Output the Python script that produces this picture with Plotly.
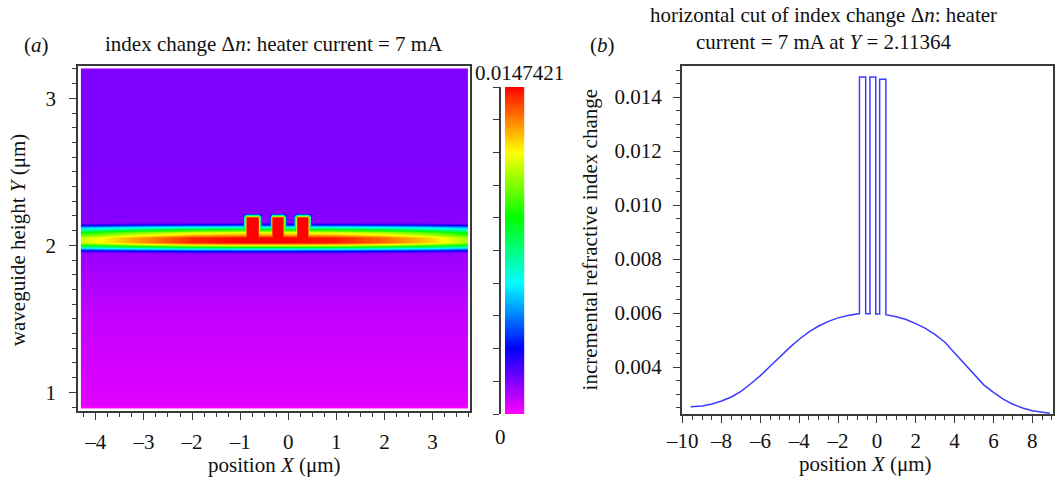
import numpy as np
import plotly.graph_objects as go

W, H = 1058, 484
DN_MAX = 0.0147421
FONT = "Liberation Serif"

# ---- smooth thermal background along the horizontal cut at Y = 2.11364 ----
base_x = [-9.6, -9.0, -8.5, -8.0, -7.5, -7.0, -6.5, -6.0, -5.5, -5.0, -4.5, -4.0,
          -3.5, -3.0, -2.5, -2.0, -1.5, -0.9,
          0.46, 1.0, 1.5, 2.0, 2.5, 3.0, 3.5, 4.0, 4.5, 5.0, 5.5, 6.0, 6.5, 7.0,
          7.5, 8.0, 8.5, 8.9]
base_dn = [0.00253, 0.00256, 0.00263, 0.00274, 0.00289, 0.00310, 0.00338, 0.00368,
           0.00403, 0.00438, 0.00472, 0.00503, 0.00530, 0.00552, 0.00569, 0.00582,
           0.00591, 0.00598,
           0.00594, 0.00586, 0.00576, 0.00561, 0.00543, 0.00520, 0.00492, 0.00452,
           0.00413, 0.00370, 0.00334, 0.00306, 0.00281, 0.00262, 0.00248, 0.00238,
           0.00232, 0.00229]

# ---- heater ridges (µm) and their peak index change ----
ridge_x0 = [-0.90, -0.36, 0.14]
ridge_x1 = [-0.58, -0.06, 0.46]
ridge_peak = [0.01474, 0.01474, 0.01466]
valley_dn = [0.00597, 0.00596]
ridge_top_y = 2.20
ridge_base_y = 2.03

# ---- normalized index change through the waveguide core (vs height Y) ----
core_y = [1.900, 1.932, 1.946, 1.959, 1.973, 1.986, 2.000, 2.014, 2.048, 2.061,
          2.082, 2.102, 2.122, 2.136, 2.150, 2.180]
core_f = [0.00, 0.08, 0.12, 0.25, 0.45, 0.65, 0.85, 1.00, 1.00, 0.90,
          0.80, 0.60, 0.40, 0.20, 0.10, 0.00]

# ---- relative strength of the core band along X ----
core_peak_x = [-4.3, -3.5, -3.0, -2.0, -1.0, 0.0, 1.0, 2.0, 3.0, 3.72]
core_peak_f = [0.76, 0.84, 0.89, 0.97, 1.0, 1.0, 0.98, 0.92, 0.83, 0.73]

# ---- normalized index change in the cladding (vs height Y) ----
clad_y = [0.894, 0.905, 1.0, 1.5, 1.9, 2.2, 2.6, 3.0, 3.19, 3.2]
clad_f = [0.00, 0.020, 0.028, 0.045, 0.075, 0.095, 0.10, 0.10, 0.10, 0.06]

# tick labels
xa_ticks = [-4, -3, -2, -1, 0, 1, 2, 3]
ya_ticks = [1, 2, 3]
xb_ticks = [-10, -8, -6, -4, -2, 0, 2, 4, 6, 8]
yb_ticks = [0.004, 0.006, 0.008, 0.010, 0.012, 0.014]
yb_labels = ["0.004", "0.006", "0.008", "0.010", "0.012", "0.014"]

# rainbow map: magenta -> violet -> blue -> cyan -> green -> yellow -> red
colorscale = [
    [0.0, "#ff00ff"], [0.1, "#7f00ff"], [0.2, "#0000ff"], [0.3, "#0080ff"],
    [0.4, "#00ffff"], [0.5, "#00ff80"], [0.6, "#00ff00"], [0.7, "#80ff00"],
    [0.8, "#ffff00"], [0.9, "#ff8000"], [1.0, "#ff0000"],
]


def dash_label(v):
    # typeset negative numbers with an en dash
    return ("–" + str(abs(v))) if v < 0 else str(v)


# ---- 2-D field for panel (a) ----
gx = np.linspace(-4.30, 3.72, 400)
gy = np.linspace(0.894, 3.20, 340)
XX, YY = np.meshgrid(gx, gy)

r_x = np.interp(gx, core_peak_x, core_peak_f)
f_clad = np.interp(gy, clad_y, clad_f)[:, None] * np.ones_like(XX)
f_core = np.interp(gy, core_y, core_f)[:, None] * r_x[None, :]

ramp_x, ramp_y = 0.09, 0.03
f_ridge = np.zeros_like(XX)
for x0, x1 in zip(ridge_x0, ridge_x1):
    sx = np.clip(np.minimum((XX - x0) / ramp_x + 0.5, (x1 - XX) / ramp_x + 0.5), 0, 1)
    sy = np.clip(np.minimum((ridge_top_y - YY) / ramp_y + 0.5,
                            (YY - ridge_base_y) / ramp_y + 0.5), 0, 1)
    f_ridge = np.maximum(f_ridge, sx * sy)

field = np.maximum(np.maximum(f_clad, f_core), f_ridge) * DN_MAX

# ---- horizontal cut polyline for panel (b) ----
cut_x = [x for x in base_x if x <= ridge_x0[0]]
cut_y = [v for x, v in zip(base_x, base_dn) if x <= ridge_x0[0]]
for i, (x0, x1, pk) in enumerate(zip(ridge_x0, ridge_x1, ridge_peak)):
    if i > 0:
        cut_x.append(x0); cut_y.append(valley_dn[i - 1])
    cut_x += [x0, x1]
    cut_y += [pk, pk]
    low = valley_dn[i] if i < len(valley_dn) else float(np.interp(x1, base_x, base_dn))
    cut_x.append(x1); cut_y.append(low)
cut_x += [x for x in base_x if x > ridge_x1[-1]]
cut_y += [v for x, v in zip(base_x, base_dn) if x > ridge_x1[-1]]


def px_x(p):
    return p / W


def px_y(p):
    return 1 - p / H


fig = go.Figure()

fig.add_trace(go.Heatmap(
    x=gx, y=gy, z=field.astype(np.float32), colorscale=colorscale,
    zmin=0, zmax=DN_MAX, showscale=False, xaxis="x", yaxis="y",
    hoverinfo="skip"))

# colour key drawn as a one-column heatmap beside panel (a)
bar_vals = np.linspace(0, DN_MAX, 300)
fig.add_trace(go.Heatmap(
    x=[0.6875], y=bar_vals, z=bar_vals[:, None], dx=0.625,
    colorscale=colorscale, zmin=0, zmax=DN_MAX, showscale=False,
    xaxis="x3", yaxis="y3", hoverinfo="skip"))

fig.add_trace(go.Scatter(
    x=cut_x, y=cut_y, mode="lines", line=dict(color="#3c3cff", width=1.5),
    xaxis="x2", yaxis="y2", hoverinfo="skip", showlegend=False))

axis_common = dict(
    showline=True, linecolor="#3a3a3a", linewidth=1.5, mirror=True,
    ticks="outside", tickcolor="#3a3a3a", tickwidth=1.3, ticklen=7,
    showgrid=False, zeroline=False,
    tickfont=dict(family=FONT, size=21, color="#111"),
)


def minor(step):
    return dict(dtick=step, tick0=0, ticklen=4, ticks="outside",
                tickcolor="#3a3a3a", tickwidth=1.1)


fig.update_layout(
    width=W, height=H, margin=dict(l=0, r=0, t=0, b=0),
    paper_bgcolor="white", plot_bgcolor="white", showlegend=False,
    xaxis=dict(domain=[px_x(63), px_x(461)], range=[-4.37, 3.78], anchor="y",
               tickvals=xa_ticks, ticktext=[dash_label(v) for v in xa_ticks],
               ticklabelstandoff=4, minor=minor(0.25), **axis_common),
    yaxis=dict(domain=[px_y(411), px_y(66)], range=[0.873, 3.22], anchor="x",
               tickvals=ya_ticks, ticktext=[str(v) for v in ya_ticks],
               ticklabelstandoff=9, minor=minor(0.1), **axis_common),
    xaxis2=dict(domain=[px_x(676), px_x(1053)], range=[-10.05, 9.07], anchor="y2",
                tickvals=xb_ticks, ticktext=[dash_label(v) for v in xb_ticks],
                ticklabelstandoff=0, minor=minor(0.5), **axis_common),
    yaxis2=dict(domain=[px_y(414), px_y(66)], range=[0.00226, 0.01515], anchor="x2",
                tickvals=yb_ticks, ticktext=yb_labels,
                ticklabelstandoff=7, minor=minor(0.0005), **axis_common),
    xaxis3=dict(domain=[px_x(492), px_x(516)], range=[0, 1], anchor="y3",
                visible=False, fixedrange=True),
    yaxis3=dict(domain=[px_y(414), px_y(87)], range=[0, DN_MAX], anchor="x3",
                showline=True, linecolor="#3a3a3a", linewidth=1.5,
                ticks="outside", tickcolor="#3a3a3a", tickwidth=1.3, ticklen=6,
                tickvals=[DN_MAX * i / 10 for i in range(11)],
                showticklabels=False, showgrid=False, zeroline=False),
)

txt = dict(family=FONT, size=21, color="#111")
annotations = [
    dict(x=px_x(6), y=px_y(45), text="(<i>a</i>)", xanchor="left"),
    dict(x=px_x(262), y=px_y(44), text="index change Δ<i>n</i>: heater current = 7 mA"),
    dict(x=px_x(511), y=px_y(73), text="0.0147421"),
    dict(x=px_x(492), y=px_y(437), text="0"),
    dict(x=px_x(262), y=px_y(465), text="position <i>X</i> (μm)"),
    dict(x=px_x(-12), y=px_y(240), text="waveguide height <i>Y</i> (μm)",
         textangle=-90, xanchor="left"),
    dict(x=px_x(581), y=px_y(45), text="(<i>b</i>)", xanchor="left"),
    dict(x=px_x(820), y=px_y(28),
         text="horizontal cut of index change Δ<i>n</i>: heater<br>"
              "current = 7 mA at <i>Y</i> = 2.11364"),
    dict(x=px_x(863), y=px_y(464), text="position <i>X</i> (μm)"),
    dict(x=px_x(569), y=px_y(240), text="incremental refractive index change",
         textangle=-90, xanchor="left"),
]
for a in annotations:
    a.setdefault("xanchor", "center")
    fig.add_annotation(xref="paper", yref="paper", showarrow=False,
                       yanchor="middle", font=txt, **a)

fig.write_html("out.html")
